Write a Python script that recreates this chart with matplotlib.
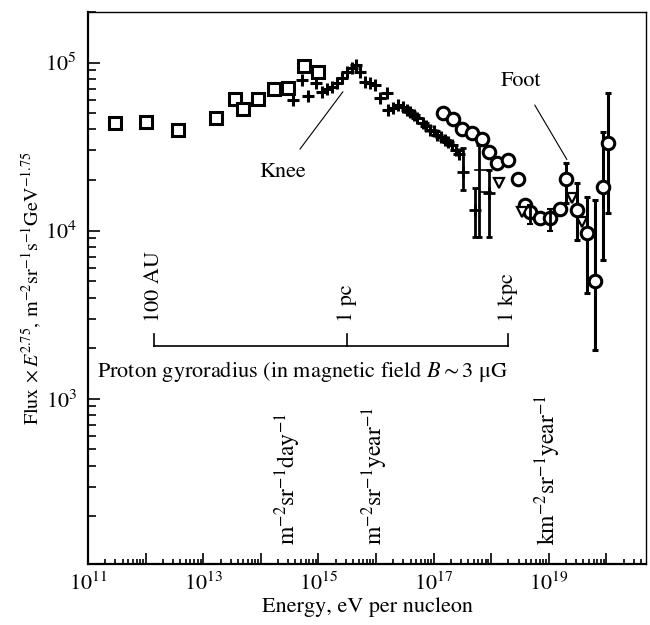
import numpy as np
import matplotlib
matplotlib.use("Agg")
import matplotlib.pyplot as plt
from matplotlib.ticker import LogLocator, FuncFormatter, NullFormatter

# --- data (energy in eV, flux x E^2.75) ---
# low-energy direct measurements (open squares)
sq_E = [3.0e11, 1.0e12, 3.6e12, 1.7e13, 3.5e13, 5.0e13, 9.0e13, 1.7e14, 3.0e14, 5.6e14, 1.0e15]
sq_F = [44000, 44500, 39500, 46500, 61000, 53000, 61000, 70000, 71000, 95000, 88000]

# air-shower data around the knee (crosses)
cr_E = [3.6e14, 5.2e14, 6.6e14, 9.1e14, 1.15e15, 1.4e15, 1.7e15, 2.1e15, 2.6e15, 3.1e15,
        3.8e15, 4.5e15, 5.3e15, 6.4e15, 7.9e15, 9.6e15, 1.17e16, 1.55e16, 1.6e16, 2.0e16,
        2.4e16, 2.9e16, 3.4e16, 3.9e16, 4.5e16, 5.1e16, 6.5e16, 7.5e16, 8.7e16, 1.0e17,
        1.15e17, 1.35e17, 1.6e17, 1.8e17, 2.1e17, 2.5e17, 2.8e17]
cr_F = [60300, 79300, 63600, 76000, 67200, 70000, 72000, 76000, 81400, 88400,
        93400, 97300, 88400, 77100, 76000, 74000, 61900, 66300, 52500, 54000,
        56000, 54700, 52000, 51100, 49000, 47100, 44000, 42000, 39900, 39000,
        37300, 36000, 34800, 33500, 32500, 30300, 28500]

# crosses with error bars
ce_E = [3.24e17, 5.2e17, 6.1e17, 9.2e17]
ce_F = [22400, 13300, 23100, 16800]
ce_lo = [17500, 9200, 9200, 9200]
ce_hi = [31200, 18000, 32500, 23100]
ce_mark = [True, True, False, True]

# open circles
ci_E = [1.46e17, 2.2e17, 3.1e17, 4.6e17, 6.9e17, 9.2e17, 1.26e18, 1.96e18, 2.9e18,
        3.9e18, 4.7e18, 7.0e18, 1.05e19, 1.56e19]
ci_F = [50400, 46400, 40500, 38300, 35300, 29500, 25400, 26500, 20400,
        14300, 13000, 11950, 11950, 13500]

# small error bars inside the ankle cluster
cl_E = [4.7e18, 1.05e19]
cl_lo = [10900, 9900]
cl_hi = [14300, 13500]

# highest-energy circles with error bars
he_E = [2.0e19, 3.1e19, 4.6e19, 6.3e19, 8.7e19, 1.07e20]
he_F = [20400, 13300, 9730, 5040, 18300, 33400]
he_lo = [14700, 8830, 4280, 1960, 6710, 12800]
he_hi = [25400, 19300, 15900, 15300, 38800, 66300]

# open triangles
tr_E = [1.37e18, 3.4e18, 2.5e19, 3.8e19]
tr_F = [19300, 13000, 15700, 11300]

# gyroradius scale (energy where r_g = 100 AU, 1 pc, 1 kpc)
gyro_E = [1.4e12, 3.14e15, 1.95e18]
gyro_lab = ["100 AU", "1 pc", "1 kpc"]

# integral flux levels
lev_E = [2.9e14, 9.6e15, 9.8e18]
lev_lab = [r"m$^{-2}$sr$^{-1}$day$^{-1}$", r"m$^{-2}$sr$^{-1}$year$^{-1}$",
           r"km$^{-2}$sr$^{-1}$year$^{-1}$"]

plt.rcParams["font.family"] = "STIXGeneral"
plt.rcParams["mathtext.fontset"] = "stix"

fig = plt.figure(figsize=(6.5, 6.25), dpi=100)
ax = fig.add_axes([0.1354, 0.0976, 0.8585, 0.8832])

mk = dict(linestyle="none", color="black", markerfacecolor="white")
ax.plot(sq_E, sq_F, marker="s", markersize=9, markeredgewidth=2.2, **mk)
ax.plot(cr_E, cr_F, marker="+", markersize=8, markeredgewidth=2.2, linestyle="none", color="black")
ax.plot(ci_E, ci_F, marker="o", markersize=9, markeredgewidth=2.2, **mk)
ax.plot(tr_E, tr_F, marker="v", markersize=7, markeredgewidth=1.6, **mk)

for e, f, lo, hi, m in zip(ce_E, ce_F, ce_lo, ce_hi, ce_mark):
    ax.errorbar([e], [f], yerr=[[f - lo], [hi - f]], fmt="+" if m else "none",
                color="black", ms=8, mew=2, elinewidth=2, capsize=2.5, capthick=1.5)
ax.plot([5.2e17, 9.2e17], [23100, 23100], color="black", lw=1.2)
ax.plot([6.5e17, 1.0e18], [17100, 17100], color="black", lw=1.2)

ci_mid = np.sqrt(np.array(cl_lo) * np.array(cl_hi))
ax.errorbar(cl_E, ci_mid, yerr=[ci_mid - np.array(cl_lo), np.array(cl_hi) - ci_mid],
            fmt="none", color="black", elinewidth=2, capsize=2, capthick=1.5)

he_F = np.array(he_F)
ax.errorbar(he_E, he_F, yerr=[he_F - np.array(he_lo), np.array(he_hi) - he_F],
            fmt="o", color="black", mfc="white", ms=9, mew=2.2, elinewidth=2.2,
            capsize=2.5, capthick=1.5)

# gyroradius bar
y_bar, y_tick = 2065, 2440
ax.plot([gyro_E[0], gyro_E[-1]], [y_bar, y_bar], color="black", lw=1.2)
for e, lab in zip(gyro_E, gyro_lab):
    ax.plot([e, e], [y_bar, y_tick], color="black", lw=1.2)
    ax.text(e, 2870, lab, rotation=90, ha="center", va="bottom", fontsize=16)
ax.text(1.43e11, 1450, r"Proton gyroradius (in magnetic field $B\sim 3$ μG",
        ha="left", va="center", fontsize=16)

for e, lab in zip(lev_E, lev_lab):
    ax.text(e, 135, lab, rotation=90, ha="center", va="bottom", fontsize=17)

ax.annotate("Knee", xy=(2.67e15, 67100), xytext=(2.43e14, 22400), fontsize=16,
            ha="center", va="center",
            arrowprops=dict(arrowstyle="-", color="black", lw=0.8, shrinkA=9, shrinkB=0))
ax.annotate("Foot", xy=(2.07e19, 26500), xytext=(3.29e18, 77100), fontsize=16,
            ha="center", va="center",
            arrowprops=dict(arrowstyle="-", color="black", lw=0.8, shrinkA=9, shrinkB=0))

ax.set_xscale("log")
ax.set_yscale("log")
ax.set_xlim(1e11, 4.9e20)
ax.set_ylim(104, 2.0e5)

ax.xaxis.set_major_locator(LogLocator(base=10, numticks=30))
ax.xaxis.set_minor_locator(LogLocator(base=10, subs=np.arange(2, 10), numticks=30))
ax.xaxis.set_major_formatter(FuncFormatter(
    lambda v, p: r"$10^{%d}$" % round(np.log10(v)) if round(np.log10(v)) % 2 == 1 else ""))
ax.xaxis.set_minor_formatter(NullFormatter())
ax.yaxis.set_major_locator(LogLocator(base=10, numticks=10))
ax.yaxis.set_minor_locator(LogLocator(base=10, subs=np.arange(2, 10), numticks=10))
ax.yaxis.set_major_formatter(FuncFormatter(lambda v, p: r"$10^{%d}$" % round(np.log10(v))))
ax.yaxis.set_minor_formatter(NullFormatter())

ax.tick_params(which="both", direction="in", top=False, right=False, labelsize=16, width=1.2)
ax.tick_params(axis="x", which="major", length=8, pad=6)
ax.tick_params(axis="x", which="minor", length=3.5)
ax.tick_params(axis="y", which="major", length=8.5, pad=8)
ax.tick_params(axis="y", which="minor", length=5.5)
for s in ["left", "bottom"]:
    ax.spines[s].set_linewidth(1.6)
for s in ["top", "right"]:
    ax.spines[s].set_linewidth(1.0)

ax.set_xlabel("Energy, eV per nucleon", fontsize=16, labelpad=2)
ax.set_ylabel(r"Flux$\,\times E^{2.75}$, m$^{-2}$sr$^{-1}$s$^{-1}$GeV$^{-1.75}$",
              fontsize=14.5, labelpad=1)

fig.savefig("out.png", dpi=100)
